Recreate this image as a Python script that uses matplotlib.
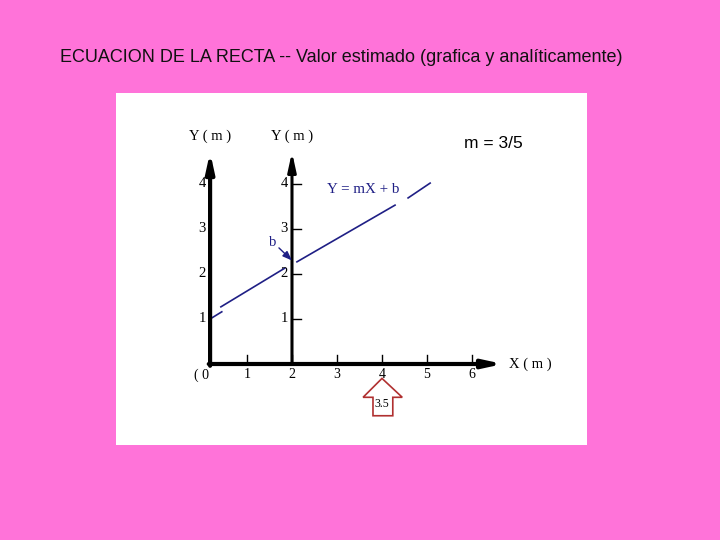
import matplotlib
matplotlib.use("Agg")
import matplotlib.pyplot as plt
from matplotlib.patches import Polygon

# ---- data ----
title = "ECUACION DE LA RECTA -- Valor estimado (grafica y analíticamente)"
x_ticks = [1, 2, 3, 4, 5, 6]
x_tick_labels = ["1", "2", "3", "4", "5", "6"]
y_ticks = [1, 2, 3, 4]
y_tick_labels = ["1", "2", "3", "4"]
main_axis_x = 0.18
second_axis_x = 2.0
axis_top = 4.71
x_axis_end = 6.69
# line pieces (x0, x1), (y0, y1)
line_x = [(0.18, 0.44), (0.42, 1.84), (2.11, 4.29), (4.58, 5.07)]
line_y = [(1.00, 1.16), (1.27, 2.13), (2.27, 3.53), (3.69, 4.02)]
estimate_x = 4.0
estimate_label = "3.5"
slope_label = "m = 3/5"
eq_label = "Y = mX + b"

PINK = "#FF73D9"
NAVY = "#1F1F85"
SERIF = ["Liberation Serif", "DejaVu Serif"]
SANS = ["Liberation Sans", "DejaVu Sans"]

fig = plt.figure(figsize=(7.2, 5.4), dpi=100, facecolor=PINK)
fig.text(60 / 720, 1 - 57 / 540, title, ha="left", va="center",
         fontsize=13, family=SANS, color="#111111")

ax = fig.add_axes([116 / 720, (540 - 445) / 540, 471 / 720, 352 / 540])
ax.set_facecolor("white")
ax.set_xlim(-1.911, 8.556)
ax.set_ylim(-1.8, 6.022)
for s in ax.spines.values():
    s.set_visible(False)
ax.set_xticks([])
ax.set_yticks([])

arrow_kw = dict(arrowstyle="-|>,head_length=0.55,head_width=0.12",
                mutation_scale=20, color="black", shrinkA=0, shrinkB=0)

# main Y axis
ax.annotate("", xy=(main_axis_x, axis_top), xytext=(main_axis_x, -0.04),
            arrowprops=dict(lw=3.0, **arrow_kw))
# second Y axis at x = 2
ax.annotate("", xy=(second_axis_x, axis_top), xytext=(second_axis_x, 0),
            arrowprops=dict(lw=2.2, **arrow_kw))
# X axis
ax.annotate("", xy=(x_axis_end, 0), xytext=(main_axis_x - 0.03, 0),
            arrowprops=dict(lw=3.0, **arrow_kw))

# X ticks and labels
for xt, lab in zip(x_ticks, x_tick_labels):
    ax.plot([xt, xt], [0, 0.19], color="black", lw=1.0)
    ax.text(xt, -0.24, lab, ha="center", va="center", fontsize=10, family=SERIF)
ax.text(-0.02, -0.24, "( 0", ha="center", va="center", fontsize=10, family=SERIF)

# main Y tick labels
for yt, lab in zip(y_ticks, y_tick_labels):
    ax.text(0.0, yt, lab, ha="center", va="center", fontsize=10.5, family=SERIF)

# second Y axis ticks and labels
for yt, lab in zip(y_ticks, y_tick_labels):
    ax.plot([second_axis_x, second_axis_x + 0.2], [yt, yt], color="black", lw=1.0)
    ax.text(second_axis_x - 0.17, yt, lab, ha="center", va="center",
            fontsize=10.5, family=SERIF)

# axis labels
ax.text(main_axis_x, 5.07, "Y ( m )", ha="center", va="center", fontsize=10.5, family=SERIF)
ax.text(second_axis_x, 5.07, "Y ( m )", ha="center", va="center", fontsize=10.5, family=SERIF)
ax.text(6.82, 0.0, "X ( m )", ha="left", va="center", fontsize=10.5, family=SERIF)

# line Y = mX + b
for xs, ys in zip(line_x, line_y):
    ax.plot(xs, ys, color=NAVY, lw=1.2, ls="-")
ax.text(2.78, 3.87, eq_label, ha="left", va="center", fontsize=10.8,
        family=SERIF, color=NAVY)

# b annotation
ax.text(1.58, 2.71, "b", ha="center", va="center", fontsize=10.5,
        family=SERIF, color=NAVY)
ax.annotate("", xy=(2.0, 2.3), xytext=(1.71, 2.58),
            arrowprops=dict(arrowstyle="-|>,head_length=0.4,head_width=0.15",
                            mutation_scale=14, color=NAVY, lw=1.0,
                            shrinkA=0, shrinkB=0))

# slope text
ax.text(5.82, 4.91, slope_label, ha="left", va="center", fontsize=12.5,
        family=SANS, color="black")

# red estimate arrow
hx = estimate_x
arrow_pts = [(hx, -0.32), (hx + 0.45, -0.74), (hx + 0.24, -0.74), (hx + 0.24, -1.15),
             (hx - 0.2, -1.15), (hx - 0.2, -0.74), (hx - 0.42, -0.74)]
ax.add_patch(Polygon(arrow_pts, closed=True, facecolor="white",
                     edgecolor="#B03030", lw=1.2))
ax.text(hx, -0.9, estimate_label, ha="center", va="center", fontsize=8.5, family=SERIF)

fig.savefig("out.png", dpi=100, facecolor=PINK)
